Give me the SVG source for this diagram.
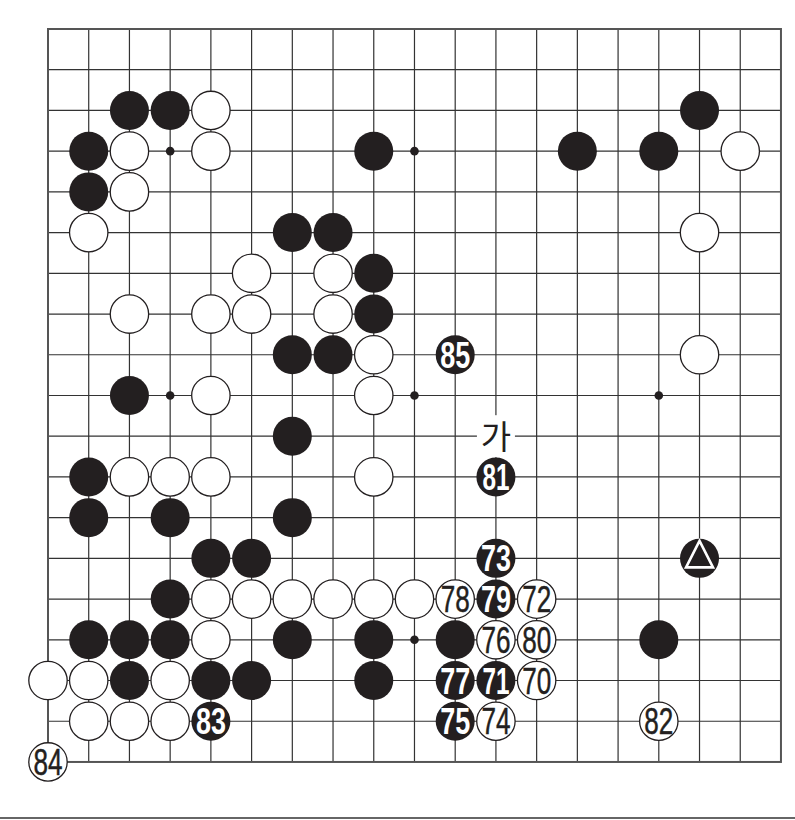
<svg xmlns="http://www.w3.org/2000/svg" width="795" height="820" viewBox="0 0 795 820">
<style>
.g{stroke:#333;stroke-width:1.2;fill:none}
.bd{stroke:#555;stroke-width:2;fill:none}
.b{fill:#231f20}
.w{fill:#fff;stroke:#231f20;stroke-width:1.3}
.h{fill:#231f20}
.n{font-family:"Liberation Sans",Arial,sans-serif;font-size:37px;text-anchor:middle}
.nw{fill:#231f20;stroke:#231f20;stroke-width:0.5}
.nb{fill:#fff;font-weight:bold}
</style>
<defs>
<circle id="B" r="19.5" class="b"/>
<circle id="W" r="19.2" class="w"/>
</defs>
<rect width="795" height="820" fill="#fff"/>
<g id="grid" transform="translate(48,29)">
<path class="g" d="M40.72 0V732.96M81.44 0V732.96M122.16 0V732.96M162.88 0V732.96M203.6 0V732.96M244.32 0V732.96M285.04 0V732.96M325.76 0V732.96M366.48 0V732.96M407.2 0V732.96M447.92 0V732.96M488.64 0V732.96M529.36 0V732.96M570.08 0V732.96M610.8 0V732.96M651.52 0V732.96M692.24 0V732.96M0 40.72H732.96M0 81.44H732.96M0 122.16H732.96M0 162.88H732.96M0 203.6H732.96M0 244.32H732.96M0 285.04H732.96M0 325.76H732.96M0 366.48H732.96M0 407.2H732.96M0 447.92H732.96M0 488.64H732.96M0 529.36H732.96M0 570.08H732.96M0 610.8H732.96M0 651.52H732.96M0 692.24H732.96"/>
<rect class="bd" x="0" y="0" width="732.96" height="732.96"/>
<circle class="h" cx="122.16" cy="122.16" r="4.3"/>
<circle class="h" cx="366.48" cy="122.16" r="4.3"/>
<circle class="h" cx="610.8" cy="122.16" r="4.3"/>
<circle class="h" cx="122.16" cy="366.48" r="4.3"/>
<circle class="h" cx="366.48" cy="366.48" r="4.3"/>
<circle class="h" cx="610.8" cy="366.48" r="4.3"/>
<circle class="h" cx="122.16" cy="610.8" r="4.3"/>
<circle class="h" cx="366.48" cy="610.8" r="4.3"/>
<circle class="h" cx="610.8" cy="610.8" r="4.3"/>
</g>
<line x1="0" y1="818" x2="795" y2="818" stroke="#333" stroke-width="1.5"/>
<g id="stones">
<!-- row 2 -->
<g id="s-2-2" transform="translate(129.44,110.44)"><use href="#B"/></g>
<g id="s-3-2" transform="translate(170.16,110.44)"><use href="#B"/></g>
<g id="s-4-2" transform="translate(210.88,110.44)"><use href="#W"/></g>
<g id="s-16-2" transform="translate(699.52,110.44)"><use href="#B"/></g>
<!-- row 3 -->
<g id="s-1-3" transform="translate(88.72,151.16)"><use href="#B"/></g>
<g id="s-2-3" transform="translate(129.44,151.16)"><use href="#W"/></g>
<g id="s-4-3" transform="translate(210.88,151.16)"><use href="#W"/></g>
<g id="s-8-3" transform="translate(373.76,151.16)"><use href="#B"/></g>
<g id="s-13-3" transform="translate(577.36,151.16)"><use href="#B"/></g>
<g id="s-15-3" transform="translate(658.8,151.16)"><use href="#B"/></g>
<g id="s-17-3" transform="translate(740.24,151.16)"><use href="#W"/></g>
<!-- row 4 -->
<g id="s-1-4" transform="translate(88.72,191.88)"><use href="#B"/></g>
<g id="s-2-4" transform="translate(129.44,191.88)"><use href="#W"/></g>
<!-- row 5 -->
<g id="s-1-5" transform="translate(88.72,232.6)"><use href="#W"/></g>
<g id="s-6-5" transform="translate(292.32,232.6)"><use href="#B"/></g>
<g id="s-7-5" transform="translate(333.04,232.6)"><use href="#B"/></g>
<g id="s-16-5" transform="translate(699.52,232.6)"><use href="#W"/></g>
<!-- row 6 -->
<g id="s-5-6" transform="translate(251.6,273.32)"><use href="#W"/></g>
<g id="s-7-6" transform="translate(333.04,273.32)"><use href="#W"/></g>
<g id="s-8-6" transform="translate(373.76,273.32)"><use href="#B"/></g>
<!-- row 7 -->
<g id="s-2-7" transform="translate(129.44,314.04)"><use href="#W"/></g>
<g id="s-4-7" transform="translate(210.88,314.04)"><use href="#W"/></g>
<g id="s-5-7" transform="translate(251.6,314.04)"><use href="#W"/></g>
<g id="s-7-7" transform="translate(333.04,314.04)"><use href="#W"/></g>
<g id="s-8-7" transform="translate(373.76,314.04)"><use href="#B"/></g>
<!-- row 8 -->
<g id="s-6-8" transform="translate(292.32,354.76)"><use href="#B"/></g>
<g id="s-7-8" transform="translate(333.04,354.76)"><use href="#B"/></g>
<g id="s-8-8" transform="translate(373.76,354.76)"><use href="#W"/></g>
<g id="m85" transform="translate(455.2,354.76)"><use href="#B"/><text class="n nb" y="13" textLength="30" lengthAdjust="spacingAndGlyphs">85</text></g>
<g id="s-16-8" transform="translate(699.52,354.76)"><use href="#W"/></g>
<!-- row 9 -->
<g id="s-2-9" transform="translate(129.44,395.48)"><use href="#B"/></g>
<g id="s-4-9" transform="translate(210.88,395.48)"><use href="#W"/></g>
<g id="s-8-9" transform="translate(373.76,395.48)"><use href="#W"/></g>
<!-- row 10 -->
<g id="s-6-10" transform="translate(292.32,436.2)"><use href="#B"/></g>
<g id="ga" transform="translate(495.92,436.2)"><rect x="-19" y="-21" width="38" height="42" fill="#fff"/><text y="12.5" text-anchor="middle" font-family="'Noto Sans CJK KR','Noto Sans',sans-serif" font-size="33" fill="#231f20">가</text></g>
<!-- row 11 -->
<g id="s-1-11" transform="translate(88.72,476.92)"><use href="#B"/></g>
<g id="s-2-11" transform="translate(129.44,476.92)"><use href="#W"/></g>
<g id="s-3-11" transform="translate(170.16,476.92)"><use href="#W"/></g>
<g id="s-4-11" transform="translate(210.88,476.92)"><use href="#W"/></g>
<g id="s-8-11" transform="translate(373.76,476.92)"><use href="#W"/></g>
<g id="m81" transform="translate(495.92,476.92)"><use href="#B"/><text class="n nb" y="13" textLength="27" lengthAdjust="spacingAndGlyphs">81</text></g>
<!-- row 12 -->
<g id="s-1-12" transform="translate(88.72,517.64)"><use href="#B"/></g>
<g id="s-3-12" transform="translate(170.16,517.64)"><use href="#B"/></g>
<g id="s-6-12" transform="translate(292.32,517.64)"><use href="#B"/></g>
<!-- row 13 -->
<g id="s-4-13" transform="translate(210.88,558.36)"><use href="#B"/></g>
<g id="s-5-13" transform="translate(251.6,558.36)"><use href="#B"/></g>
<g id="m73" transform="translate(495.92,558.36)"><use href="#B"/><text class="n nb" y="13" textLength="30" lengthAdjust="spacingAndGlyphs">73</text></g>
<g id="tri" transform="translate(699.52,558.36)"><use href="#B"/><path d="M0 -17.5L13.5 9H-13.5Z" fill="none" stroke="#fff" stroke-width="2.6" stroke-linejoin="miter"/></g>
<!-- row 14 -->
<g id="s-3-14" transform="translate(170.16,599.08)"><use href="#B"/></g>
<g id="s-4-14" transform="translate(210.88,599.08)"><use href="#W"/></g>
<g id="s-5-14" transform="translate(251.6,599.08)"><use href="#W"/></g>
<g id="s-6-14" transform="translate(292.32,599.08)"><use href="#W"/></g>
<g id="s-7-14" transform="translate(333.04,599.08)"><use href="#W"/></g>
<g id="s-8-14" transform="translate(373.76,599.08)"><use href="#W"/></g>
<g id="s-9-14" transform="translate(414.48,599.08)"><use href="#W"/></g>
<g id="m78" transform="translate(455.2,599.08)"><use href="#W"/><text class="n nw" y="13" textLength="29" lengthAdjust="spacingAndGlyphs">78</text></g>
<g id="m79" transform="translate(495.92,599.08)"><use href="#B"/><text class="n nb" y="13" textLength="30" lengthAdjust="spacingAndGlyphs">79</text></g>
<g id="m72" transform="translate(536.64,599.08)"><use href="#W"/><text class="n nw" y="13" textLength="29" lengthAdjust="spacingAndGlyphs">72</text></g>
<!-- row 15 -->
<g id="s-1-15" transform="translate(88.72,639.8)"><use href="#B"/></g>
<g id="s-2-15" transform="translate(129.44,639.8)"><use href="#B"/></g>
<g id="s-3-15" transform="translate(170.16,639.8)"><use href="#B"/></g>
<g id="s-4-15" transform="translate(210.88,639.8)"><use href="#W"/></g>
<g id="s-6-15" transform="translate(292.32,639.8)"><use href="#B"/></g>
<g id="s-8-15" transform="translate(373.76,639.8)"><use href="#B"/></g>
<g id="s-10-15" transform="translate(455.2,639.8)"><use href="#B"/></g>
<g id="m76" transform="translate(495.92,639.8)"><use href="#W"/><text class="n nw" y="13" textLength="29" lengthAdjust="spacingAndGlyphs">76</text></g>
<g id="m80" transform="translate(536.64,639.8)"><use href="#W"/><text class="n nw" y="13" textLength="29" lengthAdjust="spacingAndGlyphs">80</text></g>
<g id="s-15-15" transform="translate(658.8,639.8)"><use href="#B"/></g>
<!-- row 16 -->
<g id="s-0-16" transform="translate(48,680.52)"><use href="#W"/></g>
<g id="s-1-16" transform="translate(88.72,680.52)"><use href="#W"/></g>
<g id="s-2-16" transform="translate(129.44,680.52)"><use href="#B"/></g>
<g id="s-3-16" transform="translate(170.16,680.52)"><use href="#W"/></g>
<g id="s-4-16" transform="translate(210.88,680.52)"><use href="#B"/></g>
<g id="s-5-16" transform="translate(251.6,680.52)"><use href="#B"/></g>
<g id="s-8-16" transform="translate(373.76,680.52)"><use href="#B"/></g>
<g id="m77" transform="translate(455.2,680.52)"><use href="#B"/><text class="n nb" y="13" textLength="30" lengthAdjust="spacingAndGlyphs">77</text></g>
<g id="m71" transform="translate(495.92,680.52)"><use href="#B"/><text class="n nb" y="13" textLength="27" lengthAdjust="spacingAndGlyphs">71</text></g>
<g id="m70" transform="translate(536.64,680.52)"><use href="#W"/><text class="n nw" y="13" textLength="29" lengthAdjust="spacingAndGlyphs">70</text></g>
<!-- row 17 -->
<g id="s-1-17" transform="translate(88.72,721.24)"><use href="#W"/></g>
<g id="s-2-17" transform="translate(129.44,721.24)"><use href="#W"/></g>
<g id="s-3-17" transform="translate(170.16,721.24)"><use href="#W"/></g>
<g id="m83" transform="translate(210.88,721.24)"><use href="#B"/><text class="n nb" y="13" textLength="30" lengthAdjust="spacingAndGlyphs">83</text></g>
<g id="m75" transform="translate(455.2,721.24)"><use href="#B"/><text class="n nb" y="13" textLength="30" lengthAdjust="spacingAndGlyphs">75</text></g>
<g id="m74" transform="translate(495.92,721.24)"><use href="#W"/><text class="n nw" y="13" textLength="29" lengthAdjust="spacingAndGlyphs">74</text></g>
<g id="m82" transform="translate(658.8,721.24)"><use href="#W"/><text class="n nw" y="13" textLength="29" lengthAdjust="spacingAndGlyphs">82</text></g>
<!-- row 18 -->
<g id="m84" transform="translate(48,761.96)"><use href="#W"/><text class="n nw" y="13" textLength="29" lengthAdjust="spacingAndGlyphs">84</text></g>
</g>
</svg>
